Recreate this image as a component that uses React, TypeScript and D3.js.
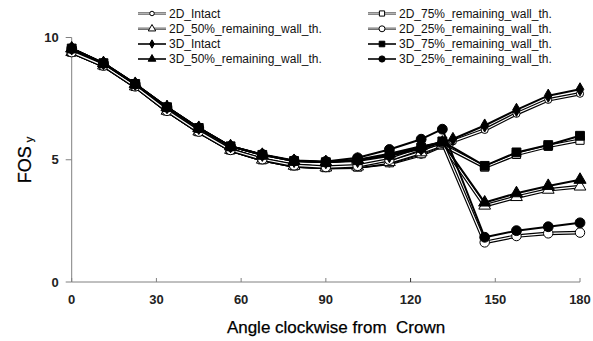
import React, { useEffect, useRef } from 'react';
import * as d3 from 'd3';

const anglesIntact = [0, 11.25, 22.5, 33.75, 45, 56.25, 67.5, 78.75, 90, 101.25, 112.5, 123.75, 135, 146.25, 157.5, 168.75, 180];
const anglesReduced = [0, 11.25, 22.5, 33.75, 45, 56.25, 67.5, 78.75, 90, 101.25, 112.5, 123.75, 131.25, 146.25, 157.5, 168.75, 180];

const fos2DIntact = [9.4, 8.85, 8.0, 7.0, 6.15, 5.4, 5.0, 4.75, 4.68, 4.7, 4.85, 5.2, 5.75, 6.22, 6.88, 7.45, 7.7];
const fos2D75 = [9.4, 8.85, 8.0, 7.0, 6.15, 5.4, 5.0, 4.75, 4.68, 4.7, 4.88, 5.25, 5.6, 4.7, 5.22, 5.55, 5.8];
const fos2D50 = [9.4, 8.85, 8.0, 7.0, 6.15, 5.4, 5.0, 4.75, 4.68, 4.72, 4.9, 5.3, 5.62, 3.12, 3.47, 3.77, 3.9];
const fos2D25 = [9.4, 8.85, 8.0, 7.0, 6.15, 5.4, 5.02, 4.77, 4.7, 4.75, 5.0, 5.45, 5.7, 1.62, 1.88, 1.99, 2.02];
const fos3DIntact = [9.55, 8.95, 8.1, 7.15, 6.3, 5.55, 5.2, 4.95, 4.9, 4.95, 5.15, 5.45, 5.85, 6.4, 7.04, 7.62, 7.88];
const fos3D75 = [9.55, 8.95, 8.1, 7.15, 6.3, 5.55, 5.2, 4.95, 4.9, 4.98, 5.2, 5.5, 5.75, 4.75, 5.3, 5.6, 5.98];
const fos3D50 = [9.55, 8.95, 8.1, 7.15, 6.3, 5.55, 5.2, 4.95, 4.9, 5.0, 5.25, 5.55, 5.7, 3.25, 3.63, 3.93, 4.18];
const fos3D25 = [9.55, 8.95, 8.1, 7.15, 6.3, 5.55, 5.22, 4.97, 4.93, 5.08, 5.42, 5.84, 6.25, 1.83, 2.1, 2.26, 2.42];

const xTicks = [0, 30, 60, 90, 120, 150, 180];
const yTicks = [0, 5, 10];

const series = [
  { name: '2D_Intact', x: anglesIntact, y: fos2DIntact, dim: '2D', symbol: d3.symbolCircle, size: 40, col: 0, row: 0 },
  { name: '2D_75%_remaining_wall_th.', x: anglesReduced, y: fos2D75, dim: '2D', symbol: d3.symbolSquare, size: 68, col: 1, row: 0 },
  { name: '2D_50%_remaining_wall_th.', x: anglesReduced, y: fos2D50, dim: '2D', symbol: d3.symbolTriangle, size: 60, col: 0, row: 1 },
  { name: '2D_25%_remaining_wall_th.', x: anglesReduced, y: fos2D25, dim: '2D', symbol: d3.symbolCircle, size: 70, col: 1, row: 1 },
  { name: '3D_Intact', x: anglesIntact, y: fos3DIntact, dim: '3D', symbol: d3.symbolDiamond, size: 50, col: 0, row: 2 },
  { name: '3D_75%_remaining_wall_th.', x: anglesReduced, y: fos3D75, dim: '3D', symbol: d3.symbolSquare, size: 78, col: 1, row: 2 },
  { name: '3D_50%_remaining_wall_th.', x: anglesReduced, y: fos3D50, dim: '3D', symbol: d3.symbolTriangle, size: 64, col: 0, row: 3 },
  { name: '3D_25%_remaining_wall_th.', x: anglesReduced, y: fos3D25, dim: '3D', symbol: d3.symbolCircle, size: 76, col: 1, row: 3 },
];

const App = () => {
  const svgRef = useRef(null);

  useEffect(() => {
    const W = 593;
    const H = 341;
    const svg = d3.select(svgRef.current);
    svg.selectAll('*').remove();
    svg.attr('width', W).attr('height', H);

    const xScale = d3.scaleLinear().domain([0, 180]).range([71.7, 580]);
    const yScale = d3.scaleLinear().domain([0, 10]).range([282, 37.5]);
    const font = 'Arial, "Liberation Sans", sans-serif';

    // axes (gray, Excel-like)
    const axisColor = '#808080';
    svg.append('line')
      .attr('x1', xScale(0)).attr('x2', xScale(0))
      .attr('y1', yScale(0)).attr('y2', yScale(10))
      .attr('stroke', axisColor).attr('stroke-width', 1);
    svg.append('line')
      .attr('x1', xScale(0)).attr('x2', xScale(180))
      .attr('y1', yScale(0)).attr('y2', yScale(0))
      .attr('stroke', axisColor).attr('stroke-width', 1);

    yTicks.forEach(t => {
      svg.append('line')
        .attr('x1', xScale(0) - 6).attr('x2', xScale(0))
        .attr('y1', yScale(t)).attr('y2', yScale(t))
        .attr('stroke', axisColor);
      svg.append('text')
        .attr('x', xScale(0) - 13)
        .attr('y', yScale(t))
        .attr('dy', '0.36em')
        .attr('text-anchor', 'end')
        .attr('font-family', font)
        .attr('font-weight', 'bold')
        .attr('font-size', 13)
        .attr('fill', '#222')
        .text(t);
    });

    xTicks.forEach(t => {
      svg.append('line')
        .attr('x1', xScale(t)).attr('x2', xScale(t))
        .attr('y1', yScale(0) - 4).attr('y2', yScale(0))
        .attr('stroke', t === 120 ? '#333' : axisColor);
      svg.append('text')
        .attr('x', xScale(t))
        .attr('y', 304)
        .attr('text-anchor', 'middle')
        .attr('font-family', font)
        .attr('font-weight', 'bold')
        .attr('font-size', 13)
        .attr('fill', '#222')
        .text(t);
    });

    svg.append('text')
      .attr('x', 336)
      .attr('y', 333)
      .attr('text-anchor', 'middle')
      .attr('font-family', font)
      .attr('font-size', 17)
      .attr('fill', '#000')
      .attr('stroke', '#000')
      .attr('stroke-width', 0.25)
      .attr('xml:space', 'preserve')
      .text('Angle clockwise from  Crown');

    const yLab = svg.append('text')
      .attr('transform', 'translate(31,160) rotate(-90)')
      .attr('text-anchor', 'middle')
      .attr('font-family', font)
      .attr('font-size', 18)
      .attr('fill', '#000')
      .attr('stroke', '#000')
      .attr('stroke-width', 0.25);
    yLab.append('tspan').text('FOS');
    yLab.append('tspan').attr('font-size', 11).attr('dx', 4).attr('dy', 2).text('y');

    const line = d3.line()
      .x(d => xScale(d[0]))
      .y(d => yScale(d[1]));

    const drawLine = (g, pts, dim, w) => {
      if (dim === '2D') {
        g.append('path').attr('d', line(pts)).attr('fill', 'none')
          .attr('stroke', '#000').attr('stroke-width', w + 2.4).attr('stroke-linejoin', 'round');
        g.append('path').attr('d', line(pts)).attr('fill', 'none')
          .attr('stroke', '#fff').attr('stroke-width', w).attr('stroke-linejoin', 'round');
      } else {
        g.append('path').attr('d', line(pts)).attr('fill', 'none')
          .attr('stroke', '#000').attr('stroke-width', w + 0.8).attr('stroke-linejoin', 'round');
      }
    };

    const drawMarker = (g, s, cx, cy, scale) => {
      g.append('path')
        .attr('d', d3.symbol().type(s.symbol).size(s.size * scale)())
        .attr('transform', `translate(${cx},${cy})`)
        .attr('fill', s.dim === '2D' ? '#fff' : '#000')
        .attr('stroke', '#000')
        .attr('stroke-width', 1);
    };

    const plot = svg.append('g');
    series.forEach(s => {
      const pts = s.x.map((a, i) => [a, s.y[i]]);
      const g = plot.append('g');
      drawLine(g, pts, s.dim, 1.2);
      pts.forEach(p => drawMarker(g, s, xScale(p[0]), yScale(p[1]), 1));
    });

    // legend
    const legendX = [138, 368];
    const legendY = [13.5, 28.8, 44, 59];
    const legend = svg.append('g');
    series.forEach(s => {
      const lx = legendX[s.col];
      const ly = legendY[s.row];
      const g = legend.append('g');
      const pts = [[0, 0], [28, 0]];
      const lline = d3.line().x(d => lx + d[0]).y(d => ly + d[1]);
      if (s.dim === '2D') {
        g.append('path').attr('d', lline(pts)).attr('stroke', '#555').attr('stroke-width', 2.4);
        g.append('path').attr('d', lline(pts)).attr('stroke', '#ccc').attr('stroke-width', 0.8);
      } else {
        g.append('path').attr('d', lline(pts)).attr('stroke', '#000').attr('stroke-width', 1.6);
      }
      drawMarker(g, s, lx + 14, ly, 0.4);
      g.append('text')
        .attr('x', lx + 31)
        .attr('y', ly)
        .attr('dy', '0.36em')
        .attr('font-family', font)
        .attr('font-size', 12)
        .attr('fill', '#111')
        .text(s.name);
    });
  }, []);

  return <svg ref={svgRef} style={{ position: 'absolute', left: 0, top: 0 }}></svg>;
};

export default App;
